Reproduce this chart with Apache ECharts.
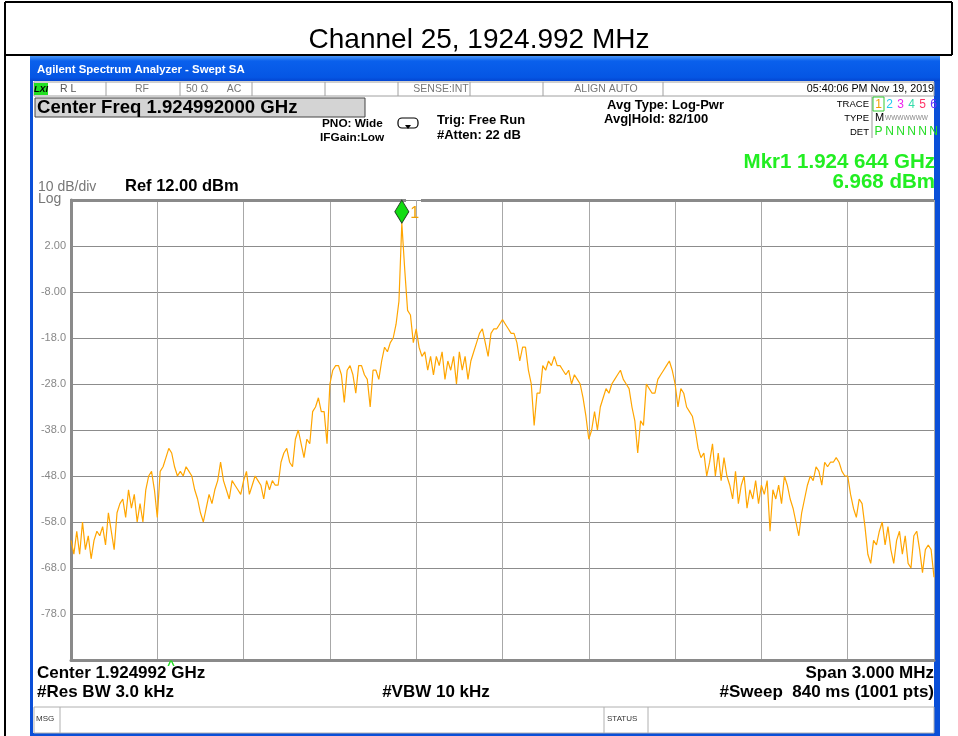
<!DOCTYPE html>
<html>
<head>
<meta charset="utf-8">
<script src="https://cdn.jsdelivr.net/npm/echarts@6/dist/echarts.min.js"></script>
<style>html,body{margin:0;padding:0;background:#fff;}#chart{width:958px;height:736px;}</style>
</head>
<body>
<div id="chart"></div>
<script>
// ---- data ----
const chartTitle = 'Channel 25, 1924.992 MHz';
const centerFreqGHz = 1.924992;
const spanMHz = 3.0;
const numPoints = 301; // trace sampled across span (index 0..300)
const traceDbm = [
-62,-65,-60,-65,-58,-64,-61,-66,-62,-60,
-61,-59,-63,-56,-60,-64,-56,-54,-53,-57,
-51,-55,-52,-58,-54,-58,-51,-48,-47,-51,
-57,-47,-46,-44,-42,-43,-46,-48,-47,-48,
-46,-47,-48,-51,-53,-56,-58,-55,-52,-54,
-51,-49,-45,-49,-51,-53,-49,-50,-51,-52,
-49,-47,-52,-50,-48,-49,-50,-53,-49,-51,
-49,-50,-50,-45,-43,-42,-45,-46,-40,-38,
-41,-44,-40,-41,-34,-33,-31,-34,-34,-41,
-28,-25,-24,-24,-26,-32,-25,-24,-26,-30,
-24,-24,-26,-27,-33,-25,-25,-27,-23,-20,
-21,-19,-18,-15,-10,6.968,-3,-12,-13,-19,
-16,-20,-22,-21,-25,-22,-26,-22,-24,-21,
-27,-23,-25,-22,-28,-21,-25,-22,-27,-23,
-21,-19,-17,-16,-19,-22,-17,-16,-16,-15,
-14,-15,-16,-17,-17,-19,-23,-20,-20,-25,
-28,-37,-30,-30,-24,-25,-23,-24,-22,-24,
-24,-25,-26,-25,-28,-26,-27,-28,-31,-35,
-40,-38,-34,-38,-33,-31,-29,-30,-28,-27,
-26,-25,-27,-28,-29,-33,-36,-43,-36,-37,
-28,-29,-30,-30,-27,-26,-25,-24,-23,-25,
-28,-33,-29,-30,-33,-34,-35,-38,-42,-44,
-43,-48,-45,-41,-48,-43,-49,-44,-48,-50,
-53,-47,-54,-50,-48,-55,-51,-53,-49,-54,
-50,-52,-49,-60,-51,-53,-50,-54,-48,-50,
-53,-55,-58,-61,-56,-53,-50,-48,-49,-46,
-47,-50,-45,-46,-45,-45,-44,-45,-47,-48,
-48,-52,-55,-57,-53,-54,-59,-65,-67,-62,
-63,-60,-58,-63,-59,-64,-67,-62,-60,-65,
-61,-67,-68,-61,-60,-64,-69,-64,-63,-64,
-70
];
const refLevel = 12;      // dBm, top of screen
const dbPerDiv = 10;
const bottomLevel = -88;  // dBm, bottom of screen
const markerIndex = 115;
const markerLabel = '1';
const markerText1 = 'Mkr1 1.924 644 GHz';
const markerText2 = '6.968 dBm';
const yTickLabels = {'2':'2.00','-8':'-8.00','-18':'-18.0','-28':'-28.0','-38':'-38.0','-48':'-48.0','-58':'-58.0','-68':'-68.0','-78':'-78.0'};

// ---- chart ----
const chart = echarts.init(document.getElementById('chart'), null, {renderer:'canvas'});
const F = "'Liberation Sans', Arial, sans-serif";
const G = [];
function txt(x, y, text, font, fill, align) {
  G.push({type:'text', silent:true, z:10, style:{x:x, y:y, text:text, font:font, fill:fill || '#000', align:align || 'left', verticalAlign:'middle'}});
}
function line(x1, y1, x2, y2, stroke, w) {
  G.push({type:'line', silent:true, z:5, shape:{x1:x1,y1:y1,x2:x2,y2:y2}, style:{stroke:stroke, lineWidth:w || 1}});
}
function rect(x, y, w, h, fill, stroke, lw, z) {
  G.push({type:'rect', silent:true, z:z || 1, shape:{x:x,y:y,width:w,height:h}, style:{fill:fill, stroke:stroke || null, lineWidth:lw || 1}});
}

// outer page table lines
line(5, 2, 952, 2, '#000', 2);
line(5, 2, 5, 736, '#000', 2);
line(952, 2, 952, 55, '#000', 2);
line(5, 55, 952, 55, '#000', 2);

// window frame
rect(30, 56, 910, 680, '#0a4fd8', null, 1, 0);
G.push({type:'rect', silent:true, z:1, shape:{x:30,y:56,width:910,height:25},
  style:{fill:new echarts.graphic.LinearGradient(0,0,0,1,[{offset:0,color:'#4a98f8'},{offset:0.2,color:'#0a60ec'},{offset:0.85,color:'#0556e4'},{offset:1,color:'#0446d2'}])}});
rect(33, 81, 901, 652, '#ffffff', null, 1, 2);
txt(37, 70, 'Agilent Spectrum Analyzer - Swept SA', "bold 11.4px " + F, '#ffffff');

// status row
rect(34, 82, 900, 14, '#ffffff', '#a0a0a0', 1, 3);
[106,180,252,325,398,470,543,663].forEach(function(x){ line(x, 82, x, 96, '#a0a0a0', 1); });
rect(34, 83, 14, 12, '#22e022', null, 1, 4);
txt(41, 89.5, 'LXI', "italic bold 9px " + F, '#000', 'center');
txt(60, 89.5, 'R L', "10.5px " + F, '#555');
txt(142, 89.5, 'RF', "10.5px " + F, '#777', 'center');
txt(186, 89.5, '50 \u03a9', "10.5px " + F, '#777');
txt(234, 89.5, 'AC', "10.5px " + F, '#777', 'center');
txt(441, 89.5, 'SENSE:INT', "10.5px " + F, '#777', 'center');
txt(606, 89.5, 'ALIGN AUTO', "10.5px " + F, '#777', 'center');
txt(934, 89.5, '05:40:06 PM Nov 19, 2019', "10.7px " + F, '#000', 'right');

// center freq box
rect(35, 98, 330, 19, '#d4d4d4', '#444', 1, 3);
txt(37, 108, 'Center Freq 1.924992000 GHz', "bold 18.6px " + F, '#000');

txt(322, 124, 'PNO: Wide', "bold 11.8px " + F, '#000');
txt(320, 138, 'IFGain:Low', "bold 11.8px " + F, '#000');
G.push({type:'rect', silent:true, z:6, shape:{x:398,y:118,width:20,height:10,r:4}, style:{fill:'#fff', stroke:'#000', lineWidth:1.2}});
G.push({type:'polygon', silent:true, z:7, shape:{points:[[405,125],[411,125],[408,129]]}, style:{fill:'#000'}});
txt(437, 120, 'Trig: Free Run', "bold 13px " + F, '#000');
txt(437, 135, '#Atten: 22 dB', "bold 13px " + F, '#000');
txt(607, 105, 'Avg Type: Log-Pwr', "bold 13px " + F, '#000');
txt(604, 119, 'Avg|Hold: 82/100', "bold 13px " + F, '#000');

// trace info box
txt(869, 104, 'TRACE', "9.5px " + F, '#000', 'right');
txt(869, 118, 'TYPE', "9.5px " + F, '#000', 'right');
txt(869, 132, 'DET', "9.5px " + F, '#000', 'right');
line(872, 97, 872, 138, '#999', 1);
rect(873, 97, 11, 14, '#fff', '#33cc33', 1, 6);
const traceColors = ['#f0a000','#22ccee','#ee22ee','#33ddaa','#ff3366','#6633ff'];
traceColors.forEach(function(c, k){ txt(878.5 + k*11, 104.5, String(k+1), "12px " + F, c, 'center'); });
txt(875, 118, 'M', "11px " + F, '#000');
txt(885, 118, 'WWWWWWW', "6.5px " + F, '#888');
['P','N','N','N','N','N'].forEach(function(c, k){ txt(878.5 + k*11, 132, c, "12px " + F, '#22dd22', 'center'); });

// marker readout
txt(935, 162, markerText1, "bold 20.5px " + F, '#22ee22', 'right');
txt(935, 182, markerText2, "bold 20.5px " + F, '#22ee22', 'right');

// scale info
txt(38, 187, '10 dB/div', "14px " + F, '#777');
txt(38, 199, 'Log', "14px " + F, '#777');
txt(125, 186, 'Ref 12.00 dBm', "bold 16.5px " + F, '#000');

// top border of graticule (with gap for marker number)
line(70, 200.5, 406, 200.5, '#8a8a8a', 3);
line(421, 200.5, 934, 200.5, '#8a8a8a', 3);

// bottom annotations
txt(171, 665, '^', "bold 13px " + F, '#22dd22', 'center');
txt(37, 673, 'Center 1.924992 GHz', "bold 17px " + F, '#000');
txt(934, 673, 'Span 3.000 MHz', "bold 17px " + F, '#000', 'right');
txt(37, 692, '#Res BW 3.0 kHz', "bold 17px " + F, '#000');
txt(436, 692, '#VBW 10 kHz', "bold 17px " + F, '#000', 'center');
txt(934, 692, '#Sweep  840 ms (1001 pts)', "bold 17px " + F, '#000', 'right');

// msg row
rect(34, 707, 900, 26, '#ffffff', '#b0b0b0', 1, 3);
line(60, 707, 60, 733, '#b0b0b0', 1);
line(604, 707, 604, 733, '#b0b0b0', 1);
line(648, 707, 648, 733, '#b0b0b0', 1);
txt(36, 719, 'MSG', "8px " + F, '#333');
txt(607, 719, 'STATUS', "8px " + F, '#333');

const option = {
  backgroundColor: '#ffffff',
  animation: false,
  title: {
    text: chartTitle, left: 'center', top: 21,
    textStyle: {fontFamily: F, fontSize: 28, fontWeight: 'normal', color: '#000'}
  },
  grid: {left: 71, right: 24, top: 200, height: 460, containLabel: false, z: 3},
  xAxis: {
    type: 'value', min: 0, max: numPoints - 1, interval: (numPoints - 1) / 10,
    axisLine: {show: true, onZero: false, lineStyle: {color: '#8a8a8a', width: 3}},
    axisTick: {show: false}, axisLabel: {show: false},
    splitLine: {show: true, lineStyle: {color: '#a8a8a8', width: 1}},
    z: 3
  },
  yAxis: {
    type: 'value', min: bottomLevel, max: refLevel, interval: dbPerDiv,
    axisLine: {show: true, lineStyle: {color: '#8a8a8a', width: 3}},
    axisTick: {show: false},
    axisLabel: {
      color: '#888', fontSize: 11, fontFamily: F, margin: 5,
      formatter: function (v) { const k = String(Math.round(v)); return yTickLabels[k] || ''; }
    },
    splitLine: {show: true, lineStyle: {color: '#8c8c8c', width: 1}},
    z: 3
  },
  series: [{
    type: 'line', z: 4,
    data: traceDbm.map(function (v, i) { return [i, v]; }),
    symbol: 'none',
    lineStyle: {color: '#ffa500', width: 1.2},
    clip: true,
    markPoint: {
      symbol: 'diamond', symbolSize: [14, 23], symbolOffset: [0, '-50%'],
      itemStyle: {color: '#11dd11', borderColor: '#224422', borderWidth: 1},
      label: {show: true, position: 'right', distance: 1, offset: [0, 2], formatter: markerLabel, color: '#f0a000', fontSize: 16, fontFamily: F},
      data: [{coord: [markerIndex, traceDbm[markerIndex]]}]
    }
  }],
  graphic: G
};
chart.setOption(option);
</script>
</body>
</html>
